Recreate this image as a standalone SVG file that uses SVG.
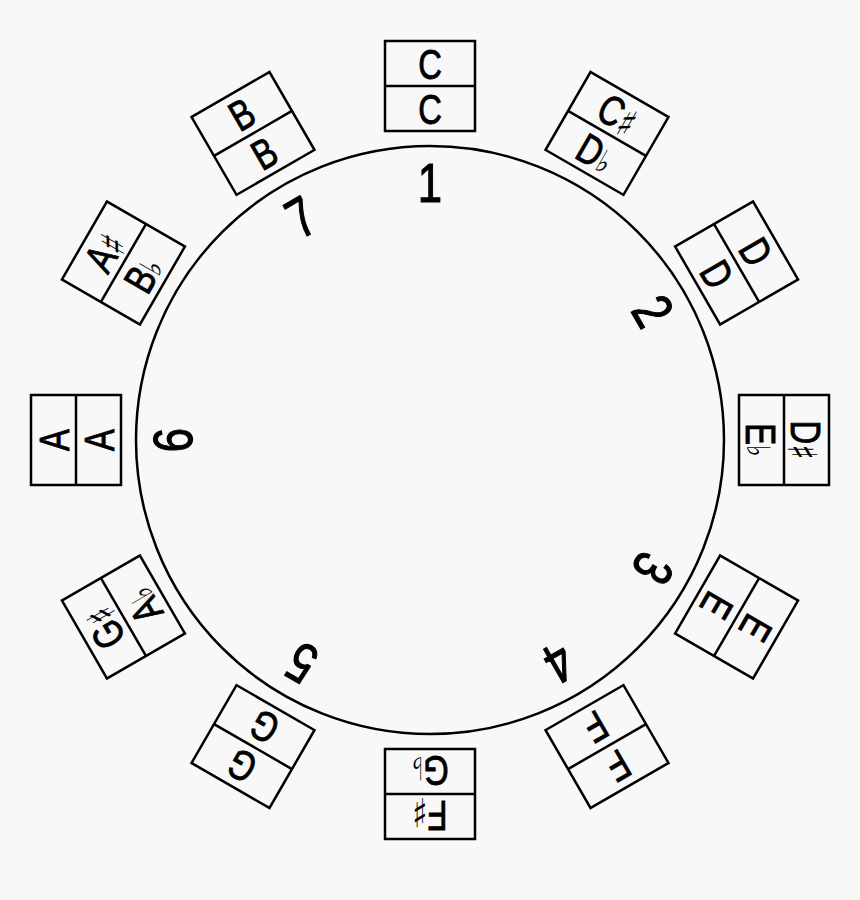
<svg xmlns="http://www.w3.org/2000/svg" width="860" height="900" viewBox="0 0 860 900">
<style>
.bg{fill:#f8f8f8}
.bx{fill:none;stroke:#000;stroke-width:2.5}
.ring{fill:none;stroke:#000;stroke-width:2.5}
.n{font-family:"Liberation Sans",Arial,sans-serif;font-size:42px;text-anchor:middle;fill:#000;stroke:#000;stroke-width:0.9}
.acc{font-family:"DejaVu Sans",sans-serif;font-size:40px;stroke:none}
.fl{font-family:"DejaVu Sans",sans-serif;font-size:32px;stroke:none}
.num{font-family:"Liberation Sans",Arial,sans-serif;font-size:56px;text-anchor:middle;fill:#000;stroke:#000;stroke-width:1.2}
</style>
<rect class="bg" x="0" y="0" width="860" height="900"/>
<g id="ring"><circle class="ring" cx="430" cy="440" r="294"/></g>

<g id="box-C" transform="rotate(0 430 440) translate(430 86)">
<rect class="bx" x="-45" y="-45" width="90" height="90"/><line class="bx" x1="-45" y1="0" x2="45" y2="0"/>
<text class="n" y="-7.5" transform="scale(0.78 1)">C</text>
<text class="n" y="37.5" transform="scale(0.78 1)">C</text>
</g>
<g id="box-Cs-Db" transform="rotate(30 430 440) translate(430 86)">
<rect class="bx" x="-45" y="-45" width="90" height="90"/><line class="bx" x1="-45" y1="0" x2="45" y2="0"/>
<text class="n" y="-7.5" transform="scale(0.78 1)">C<tspan class="acc" dy="3">♯</tspan></text>
<text class="n" y="37.5" transform="scale(0.78 1)">D<tspan class="fl">♭</tspan></text>
</g>
<g id="box-D" transform="rotate(60 430 440) translate(430 86)">
<rect class="bx" x="-45" y="-45" width="90" height="90"/><line class="bx" x1="-45" y1="0" x2="45" y2="0"/>
<text class="n" y="-7.5" transform="scale(0.78 1)">D</text>
<text class="n" y="37.5" transform="scale(0.78 1)">D</text>
</g>
<g id="box-Ds-Eb" transform="rotate(90 430 440) translate(430 86)">
<rect class="bx" x="-45" y="-45" width="90" height="90"/><line class="bx" x1="-45" y1="0" x2="45" y2="0"/>
<text class="n" y="-7.5" transform="scale(0.78 1)">D<tspan class="acc" dy="3">♯</tspan></text>
<text class="n" y="37.5" transform="scale(0.78 1)">E<tspan class="fl">♭</tspan></text>
</g>
<g id="box-E" transform="rotate(120 430 440) translate(430 86)">
<rect class="bx" x="-45" y="-45" width="90" height="90"/><line class="bx" x1="-45" y1="0" x2="45" y2="0"/>
<text class="n" y="-7.5" transform="scale(0.78 1)">E</text>
<text class="n" y="37.5" transform="scale(0.78 1)">E</text>
</g>
<g id="box-F" transform="rotate(150 430 440) translate(430 86)">
<rect class="bx" x="-45" y="-45" width="90" height="90"/><line class="bx" x1="-45" y1="0" x2="45" y2="0"/>
<text class="n" y="-7.5" transform="scale(0.78 1)">F</text>
<text class="n" y="37.5" transform="scale(0.78 1)">F</text>
</g>
<g id="box-Fs-Gb" transform="rotate(180 430 440) translate(430 86)">
<rect class="bx" x="-45" y="-45" width="90" height="90"/><line class="bx" x1="-45" y1="0" x2="45" y2="0"/>
<text class="n" y="-7.5" transform="scale(0.78 1)">F<tspan class="acc" dy="3">♯</tspan></text>
<text class="n" y="37.5" transform="scale(0.78 1)">G<tspan class="fl">♭</tspan></text>
</g>
<g id="box-G" transform="rotate(210 430 440) translate(430 86)">
<rect class="bx" x="-45" y="-45" width="90" height="90"/><line class="bx" x1="-45" y1="0" x2="45" y2="0"/>
<text class="n" y="-7.5" transform="scale(0.78 1)">G</text>
<text class="n" y="37.5" transform="scale(0.78 1)">G</text>
</g>
<g id="box-Gs-Ab" transform="rotate(240 430 440) translate(430 86)">
<rect class="bx" x="-45" y="-45" width="90" height="90"/><line class="bx" x1="-45" y1="0" x2="45" y2="0"/>
<text class="n" y="-7.5" transform="scale(0.78 1)">G<tspan class="acc" dy="3">♯</tspan></text>
<text class="n" y="37.5" transform="scale(0.78 1)">A<tspan class="fl">♭</tspan></text>
</g>
<g id="box-A" transform="rotate(270 430 440) translate(430 86)">
<rect class="bx" x="-45" y="-45" width="90" height="90"/><line class="bx" x1="-45" y1="0" x2="45" y2="0"/>
<text class="n" y="-7.5" transform="scale(0.78 1)">A</text>
<text class="n" y="37.5" transform="scale(0.78 1)">A</text>
</g>
<g id="box-As-Bb" transform="rotate(300 430 440) translate(430 86)">
<rect class="bx" x="-45" y="-45" width="90" height="90"/><line class="bx" x1="-45" y1="0" x2="45" y2="0"/>
<text class="n" y="-7.5" transform="scale(0.78 1)">A<tspan class="acc" dy="3">♯</tspan></text>
<text class="n" y="37.5" transform="scale(0.78 1)">B<tspan class="fl">♭</tspan></text>
</g>
<g id="box-B" transform="rotate(330 430 440) translate(430 86)">
<rect class="bx" x="-45" y="-45" width="90" height="90"/><line class="bx" x1="-45" y1="0" x2="45" y2="0"/>
<text class="n" y="-7.5" transform="scale(0.78 1)">B</text>
<text class="n" y="37.5" transform="scale(0.78 1)">B</text>
</g>

<g id="degrees">
<g id="deg-1" transform="rotate(0 430 440)"><text class="num" x="551" y="202" transform="scale(0.78 1)">1</text></g>
<g id="deg-2" transform="rotate(60 430 440)"><text class="num" x="551" y="202" transform="scale(0.78 1)">2</text></g>
<g id="deg-3" transform="rotate(120 430 440)"><text class="num" x="551" y="202" transform="scale(0.78 1)">3</text></g>
<g id="deg-4" transform="rotate(150 430 440)"><text class="num" x="551" y="202" transform="scale(0.78 1)">4</text></g>
<g id="deg-5" transform="rotate(210 430 440)"><text class="num" x="551" y="202" transform="scale(0.78 1)">5</text></g>
<g id="deg-6" transform="rotate(270 430 440)"><text class="num" x="551" y="202" transform="scale(0.78 1)">6</text></g>
<g id="deg-7" transform="rotate(330 430 440)"><text class="num" x="551" y="202" transform="scale(0.78 1)">7</text></g>
</g>
</svg>
